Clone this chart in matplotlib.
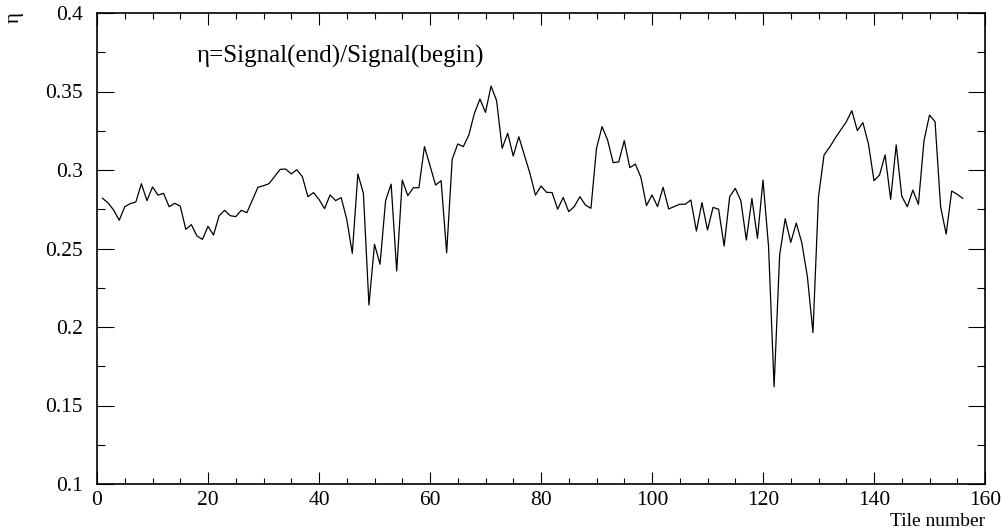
import numpy as np
import matplotlib
matplotlib.use('Agg')
import matplotlib.pyplot as plt
from matplotlib.ticker import MultipleLocator, FuncFormatter

# eta ratio per tile
tile = np.arange(1, 157)
eta = [0.282, 0.279, 0.2745, 0.268, 0.2766, 0.2786, 0.2796, 0.2913, 0.2805, 0.2892,
       0.284, 0.2851, 0.2766, 0.2788, 0.277, 0.2622, 0.2652, 0.258, 0.2558, 0.2641,
       0.2586, 0.2709, 0.2743, 0.2709, 0.2703, 0.2743, 0.2728, 0.2809, 0.289, 0.290,
       0.2913, 0.2958, 0.3004, 0.3006, 0.2975, 0.3002, 0.2958, 0.283, 0.2856, 0.2813,
       0.2754, 0.2841, 0.2805, 0.2824, 0.2686, 0.2469, 0.2975, 0.2851, 0.214, 0.2527,
       0.240, 0.2805, 0.291, 0.2357, 0.2936, 0.2837, 0.2887, 0.2887, 0.3149, 0.3028,
       0.2904, 0.2932, 0.2473, 0.3068, 0.3166, 0.3149, 0.3223, 0.3361, 0.3452, 0.3367,
       0.3535, 0.3442, 0.3138, 0.3234, 0.3089, 0.3212, 0.3096, 0.2979, 0.284, 0.2898,
       0.2858, 0.2856, 0.275, 0.2825, 0.2735, 0.2767, 0.283, 0.2777, 0.2756, 0.3138,
       0.3276, 0.3191, 0.3047, 0.3051, 0.3187, 0.3015, 0.3038, 0.2953, 0.2773, 0.2841,
       0.2767, 0.289, 0.2752, 0.2767, 0.2782, 0.2782, 0.2809, 0.2611, 0.2792, 0.2618,
       0.2762, 0.275, 0.2516, 0.283, 0.2883, 0.2805, 0.2554, 0.2819, 0.2565, 0.2936,
       0.2512, 0.162, 0.2459, 0.269, 0.2539, 0.2662, 0.2535, 0.232, 0.1964, 0.283,
       0.3096, 0.3145, 0.3202, 0.3255, 0.3306, 0.3378, 0.3251, 0.3302, 0.3166, 0.2932,
       0.2968, 0.3096, 0.2813, 0.316, 0.2834, 0.2766, 0.2872, 0.2781, 0.3185, 0.335,
       0.3308, 0.2766, 0.2592, 0.2866, 0.2845, 0.2819]

plt.rcParams['font.family'] = ['Liberation Serif', 'DejaVu Serif']

fig = plt.figure(figsize=(10.03, 5.31), dpi=100)
ax = fig.add_axes([97/1003, 1-484/531, (985-97)/1003, (484-13)/531])

ax.plot(tile, eta, color='black', lw=0.9)

ax.set_xlim(0, 160)
ax.set_ylim(0.1, 0.4)
ax.xaxis.set_major_locator(MultipleLocator(20))
ax.xaxis.set_minor_locator(MultipleLocator(5))
ax.yaxis.set_major_locator(MultipleLocator(0.05))
ax.yaxis.set_minor_locator(MultipleLocator(0.025))
ax.yaxis.set_major_formatter(FuncFormatter(lambda v, p: ('%.2f' % v).rstrip('0')))

ax.tick_params(axis='both', which='both', direction='in', top=True, right=True,
               labelsize=15.5, width=0.8)
ax.tick_params(axis='x', which='major', length=8.6, pad=5)
ax.tick_params(axis='x', which='minor', length=4.3)
ax.tick_params(axis='y', which='major', length=12.2, pad=10)
ax.tick_params(axis='y', which='minor', length=6.1)
for s in ax.spines.values():
    s.set_linewidth(1.2)

ax.text(18, 0.3726, 'η=Signal(end)/Signal(begin)', fontsize=18, va='center')
ax.set_xlabel('Tile number', loc='right', fontsize=14, labelpad=2)
fig.text(14/1003, 1-18/531, 'η', rotation=90, fontsize=15, ha='center', va='center')

fig.savefig('out.png', dpi=100)
